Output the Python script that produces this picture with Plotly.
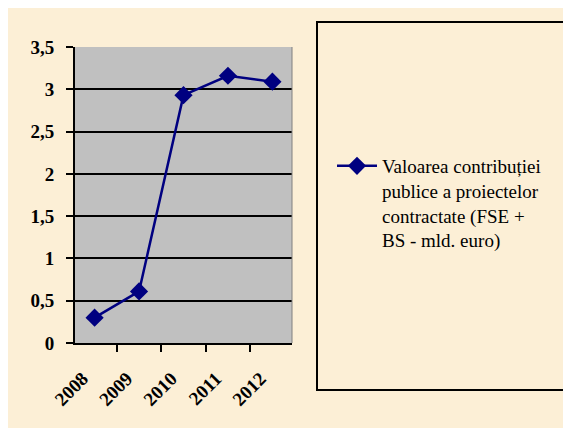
import plotly.graph_objects as go

# date
ani = ["2008", "2009", "2010", "2011", "2012"]
valori = [0.30, 0.61, 2.93, 3.16, 3.09]
serie = "Valoarea contribuției<br>publice a proiectelor<br>contractate (FSE +<br>BS - mld. euro)"

W, H = 571, 428
OFF = 8  # marginea implicita a paginii html
L, T = 75 - OFF, 47 - OFF
R, B = W - (292 - OFF), H - (343 - OFF)
pw, ph = W - L - R, H - T - B
serif = "Times New Roman"

def px(x):
    return (x - OFF - L) / pw

def py(y):
    return (H - B - (y - OFF)) / ph

fig = go.Figure()
fig.add_trace(go.Scatter(
    x=ani, y=valori, name=serie, mode="lines+markers",
    line=dict(color="#000080", width=2.5),
    marker=dict(symbol="diamond", size=14, color="#000080"),
))

fig.update_layout(
    width=W, height=H,
    margin=dict(l=L, r=R, t=T, b=B),
    paper_bgcolor="#FCEFD6",
    plot_bgcolor="#C0C0C0",
    separators=",.",
    font=dict(family=serif, color="black"),
    showlegend=True,
    legend=dict(
        x=px(332), y=py(147), xanchor="left", yanchor="top",
        bgcolor="rgba(0,0,0,0)", font=dict(size=19, family=serif),
        itemwidth=40, valign="top",
    ),
    shapes=[
        # chenar legenda
        dict(type="rect", xref="paper", yref="paper",
             x0=px(317), x1=px(569), y0=py(390), y1=py(22),
             line=dict(color="black", width=2)),
        # margine dreapta
        dict(type="line", xref="paper", yref="paper",
             x0=1, x1=1, y0=0, y1=1, line=dict(color="#808080", width=1)),
    ],
)

fig.update_xaxes(
    type="category", tickson="boundaries", ticks="outside", ticklen=7,
    tickwidth=2, tickcolor="black", showline=True, linecolor="black",
    linewidth=2, showgrid=False, tickangle=-45,
    ticklabelstandoff=15, ticklabelshift=-12,
    tickfont=dict(size=19, family=serif, weight="bold"),
)
fig.update_yaxes(
    range=[0, 3.5], dtick=0.5, ticks="outside", ticklen=7, tickwidth=2,
    tickcolor="black", showline=True, linecolor="black", linewidth=2,
    showgrid=True, gridcolor="black", gridwidth=2, zeroline=False,
    ticklabelstandoff=8,
    tickfont=dict(size=19, family=serif, weight="bold"),
)

fig.write_html("out.html")
